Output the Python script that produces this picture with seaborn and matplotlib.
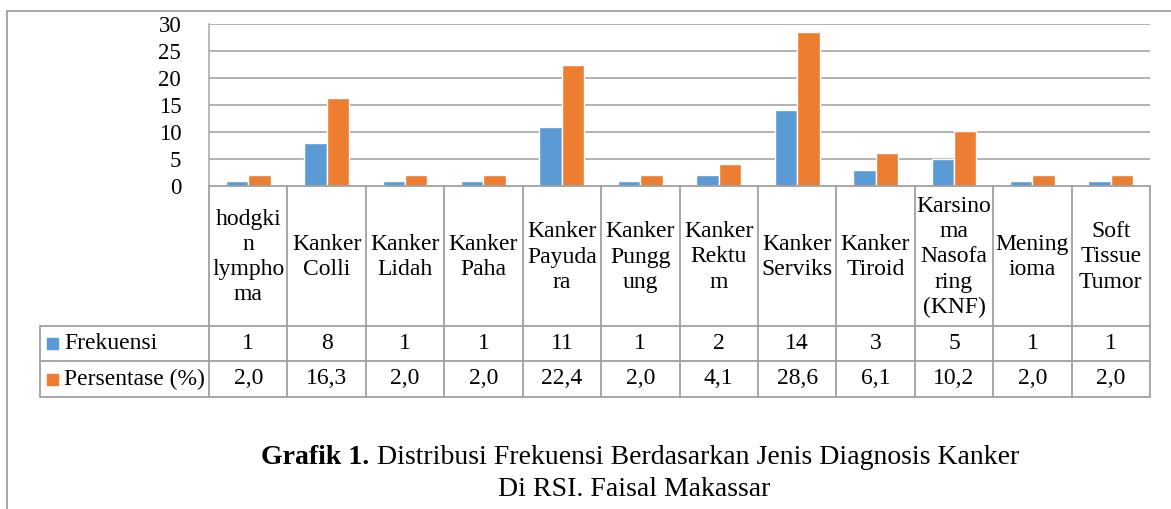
import matplotlib
matplotlib.use("Agg")
import matplotlib.pyplot as plt
from matplotlib.lines import Line2D
from matplotlib.patches import Rectangle
import matplotlib.transforms as mtransforms
import seaborn as sns
import pandas as pd

# ---------------- data ----------------
categories = ["hodgki\nn\nlympho\nma", "Kanker\nColli", "Kanker\nLidah", "Kanker\nPaha",
              "Kanker\nPayuda\nra", "Kanker\nPungg\nung", "Kanker\nRektu\nm", "Kanker\nServiks",
              "Kanker\nTiroid", "Karsino\nma\nNasofa\nring\n(KNF)", "Mening\nioma",
              "Soft\nTissue\nTumor"]
frekuensi = [1, 8, 1, 1, 11, 1, 2, 14, 3, 5, 1, 1]
persentase = [2.0, 16.3, 2.0, 2.0, 22.4, 2.0, 4.1, 28.6, 6.1, 10.2, 2.0, 2.0]
series_names = ["Frekuensi", "Persentase (%)"]
yticks = [0, 5, 10, 15, 20, 25, 30]
caption_bold = "Grafik 1."
caption_rest = " Distribusi Frekuensi Berdasarkan Jenis Diagnosis Kanker"
caption_line2 = "Di RSI. Faisal Makassar"

colors = ["#5B9BD5", "#ED7D31"]
grid_c = "#A6A6A6"
line_c = "#A0A0A0"

df = pd.DataFrame({
    "kategori": categories * 2,
    "nilai": frekuensi + persentase,
    "seri": [series_names[0]] * len(categories) + [series_names[1]] * len(categories),
})

sns.set_theme(style="white")
plt.rcParams["font.family"] = ["Liberation Serif", "DejaVu Serif"]

W, H = 1171, 509
fig = plt.figure(figsize=(W / 100, H / 100), dpi=100)

def fx(x):
    return x / W

def fy(y):
    return 1 - y / H

left, right, top, zero = 209, 1150, 24, 186
ax = fig.add_axes([fx(left), fy(zero), fx(right) - fx(left), fy(top) - fy(zero)])

sns.barplot(data=df, x="kategori", y="nilai", hue="seri", palette=colors,
            width=0.572, gap=0, dodge=True, ax=ax, legend=False, saturation=1,
            order=categories, hue_order=series_names, errorbar=None)

ax.set_ylim(0, 30)
ax.set_xlim(-0.5, len(categories) - 0.5)
ax.set_yticks(yticks)
ax.set_yticklabels([str(v) for v in yticks], fontsize=16.5)
ax.tick_params(axis="y", length=0, pad=20, colors="black")
ax.set_xticks([])
ax.set_xlabel("")
ax.set_ylabel("")
for s in ["top", "right", "bottom"]:
    ax.spines[s].set_visible(False)
ax.spines["left"].set_color(grid_c)
ax.spines["left"].set_linewidth(1.1)
for v in yticks[1:]:
    ax.axhline(v, color=grid_c, lw=1.2, zorder=0)

# ---------------- data table ----------------
blend = mtransforms.blended_transform_factory(ax.transData, fig.transFigure)
row_top, row1, row2, row_bot = 186, 326, 361, 397
leg_left = 40

def hline(x0, x1, y):
    fig.add_artist(Line2D([fx(x0), fx(x1)], [fy(y), fy(y)], color=line_c, lw=1.3,
                          transform=fig.transFigure))

hline(left, right, row_top)
for y in (row1, row2, row_bot):
    hline(leg_left, right, y)
fig.add_artist(Line2D([fx(leg_left), fx(leg_left)], [fy(row1), fy(row_bot)], color=line_c,
                      lw=1.3, transform=fig.transFigure))
for i in range(len(categories) + 1):
    xb = i - 0.5
    fig.add_artist(Line2D([xb, xb], [fy(row_top), fy(row_bot)], color=line_c, lw=1.3,
                          transform=blend))

fs = 17
for i, cat in enumerate(categories):
    fig.text(i, fy((row_top + row1) / 2 + 1), cat, transform=blend, ha="center", va="center",
             fontsize=fs, linespacing=1.27, color="black")
    fig.text(i, fy((row1 + row2) / 2), str(frekuensi[i]), transform=blend, ha="center",
             va="center", fontsize=fs, color="black")
    fig.text(i, fy((row2 + row_bot) / 2), f"{persentase[i]:.1f}".replace(".", ","),
             transform=blend, ha="center", va="center", fontsize=fs, color="black")

for k, (name, c) in enumerate(zip(series_names, colors)):
    yc = (row1 + row2) / 2 if k == 0 else (row2 + row_bot) / 2
    fig.add_artist(Rectangle((fx(47), fy(yc + 5.5)), fx(11), 11 / H, color=c,
                             transform=fig.transFigure))
    fig.text(fx(64), fy(yc), name, ha="left", va="center", fontsize=fs, color="black")

# ---------------- outer frame ----------------
fig.add_artist(Line2D([fx(7), fx(7)], [fy(11), 0], color=line_c, lw=1.3,
                      transform=fig.transFigure))
fig.add_artist(Line2D([fx(7), 1], [fy(11), fy(11)], color=line_c, lw=1.3,
                      transform=fig.transFigure))

# ---------------- caption ----------------
cfs = 20
renderer = fig.canvas.get_renderer()
tb = fig.text(0, fy(457), caption_bold, fontsize=cfs, fontweight="bold", va="center",
              color="black")
tr = fig.text(0, fy(457), caption_rest, fontsize=cfs, va="center", color="black")
wb = tb.get_window_extent(renderer).width
wr = tr.get_window_extent(renderer).width
x0 = 640 - (wb + wr) / 2
tb.set_x(fx(x0))
tr.set_x(fx(x0 + wb))
fig.text(fx(634), fy(489), caption_line2, fontsize=cfs, ha="center", va="center",
         color="black")

fig.savefig("out.png", dpi=100)
